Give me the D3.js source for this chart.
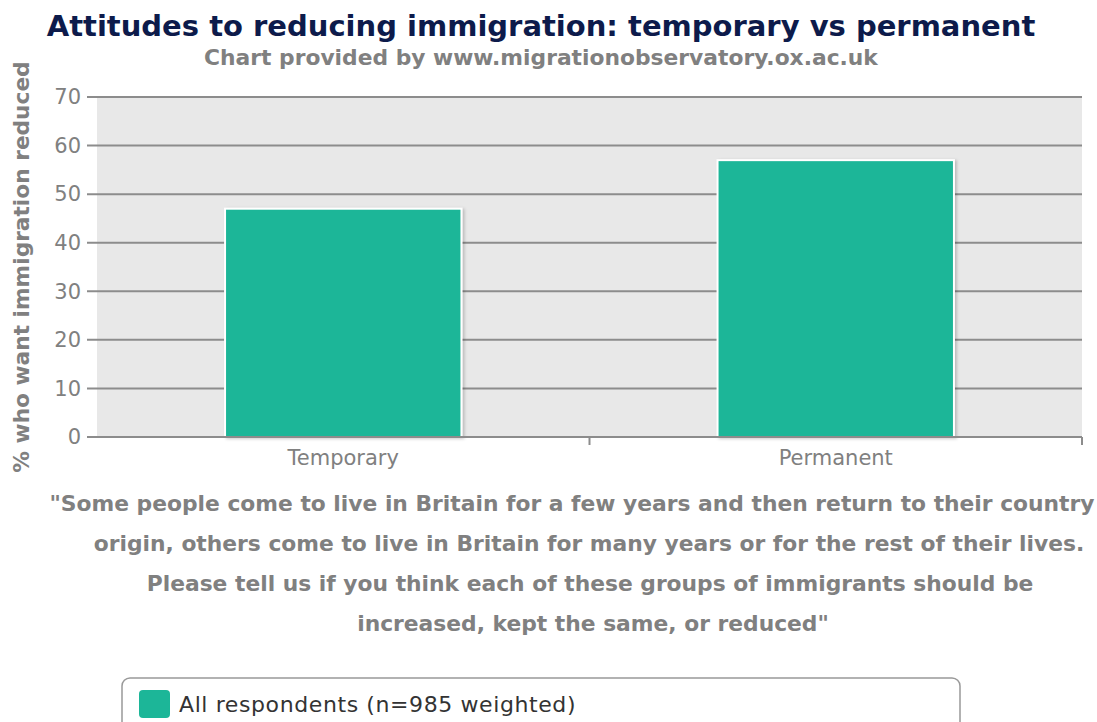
<!DOCTYPE html>
<html><head><meta charset="utf-8">
<script src="https://cdn.jsdelivr.net/npm/d3@7"></script>
<style>body{margin:0;background:#fff;} svg{display:block;font-family:"DejaVu Sans",sans-serif;}</style>
</head><body>
<svg id="c" width="1097" height="722"></svg>
<script>
const categories = ["Temporary", "Permanent"];
const values = [47, 57];
const yTicks = [0, 10, 20, 30, 40, 50, 60, 70];
const seriesName = "All respondents (n=985 weighted)";
const titleText = "Attitudes to reducing immigration: temporary vs permanent";
const subtitleText = "Chart provided by www.migrationobservatory.ox.ac.uk";
const yTitle = "% who want immigration reduced";
const captionLines = [
  "\"Some people come to live in Britain for a few years and then return to their country",
  "origin, others come to live in Britain for many years or for the rest of their lives.",
  "Please tell us if you think each of these groups of immigrants should be",
  "increased, kept the same, or reduced\""
];

const svg = d3.select("#c");
const M = {left: 97, right: 1082, top: 97, bottom: 437};
const x = d3.scaleBand().domain(categories).range([M.left, M.right]).paddingInner(0).paddingOuter(0);
const y = d3.scaleLinear().domain([0, 70]).range([M.bottom, M.top]);
const barColor = "#1cb698";
const grey = "#808080";

svg.append("rect").attr("x", M.left).attr("y", M.top).attr("width", M.right - M.left).attr("height", M.bottom - M.top).attr("fill", "#e8e8e8");

svg.append("g").selectAll("line").data(yTicks).join("line")
  .attr("x1", M.left - 10).attr("x2", M.right)
  .attr("y1", d => y(d)).attr("y2", d => y(d))
  .attr("stroke", "#8c8c8c").attr("stroke-width", 2);

svg.append("g").selectAll("text").data(yTicks).join("text")
  .attr("x", M.left - 16).attr("y", d => y(d)).attr("dy", "0.35em")
  .attr("text-anchor", "end").attr("font-size", 21).attr("fill", grey)
  .text(d => d);

svg.append("text").attr("transform", `translate(29,${(M.top + M.bottom) / 2 + 0}) rotate(-90)`)
  .attr("text-anchor", "middle").attr("font-size", 21.7).attr("font-weight", "bold").attr("fill", grey)
  .text(yTitle);

const bw = x.bandwidth() * 0.48;
const defs = svg.append("defs");
const f = defs.append("filter").attr("id", "sh").attr("x", "-10%").attr("y", "-10%").attr("width", "130%").attr("height", "130%");
f.append("feDropShadow").attr("dx", 2).attr("dy", 1).attr("stdDeviation", 1.5).attr("flood-color", "#000").attr("flood-opacity", 0.2);
svg.append("g").selectAll("rect").data(values).join("rect")
  .attr("x", (d, i) => x(categories[i]) + (x.bandwidth() - bw) / 2)
  .attr("y", d => y(d))
  .attr("width", bw).attr("height", d => y(0) - y(d))
  .attr("fill", barColor).attr("stroke", "#fff").attr("stroke-width", 2)
  .attr("filter", "url(#sh)");

svg.append("line").attr("x1", M.left - 10).attr("x2", M.right).attr("y1", M.bottom).attr("y2", M.bottom)
  .attr("stroke", "#8c8c8c").attr("stroke-width", 2);
const xTickPos = categories.map(c => x(c) + x.bandwidth());
svg.append("g").selectAll("line").data(xTickPos).join("line")
  .attr("x1", d => d).attr("x2", d => d).attr("y1", M.bottom).attr("y2", M.bottom + 8)
  .attr("stroke", "#8c8c8c").attr("stroke-width", 2);
svg.append("g").selectAll("text").data(categories).join("text")
  .attr("x", d => x(d) + x.bandwidth() / 2).attr("y", 465)
  .attr("text-anchor", "middle").attr("font-size", 21).attr("fill", grey).text(d => d);

svg.append("text").attr("x", 541).attr("y", 36).attr("text-anchor", "middle")
  .attr("font-size", 29).attr("font-weight", "bold").attr("fill", "#0d1b4b").text(titleText);
svg.append("text").attr("x", 541).attr("y", 65).attr("text-anchor", "middle")
  .attr("font-size", 21.8).attr("font-weight", "bold").attr("fill", grey).text(subtitleText);

const capX = [572, 589, 590, 593];
svg.append("g").selectAll("text").data(captionLines).join("text")
  .attr("x", (d, i) => capX[i]).attr("y", (d, i) => 511 + i * 40)
  .attr("text-anchor", "middle").attr("font-size", 21.8).attr("font-weight", "bold").attr("fill", grey)
  .text(d => d);

svg.append("rect").attr("x", 122).attr("y", 678).attr("width", 838).attr("height", 60).attr("rx", 8)
  .attr("fill", "#fff").attr("stroke", "#999").attr("stroke-width", 1.5);
svg.append("rect").attr("x", 139).attr("y", 690).attr("width", 31).attr("height", 28).attr("rx", 4).attr("fill", barColor);
svg.append("text").attr("x", 179).attr("y", 712).attr("font-size", 22).attr("letter-spacing", 0.6).attr("fill", "#333").text(seriesName);
</script>
</body></html>
